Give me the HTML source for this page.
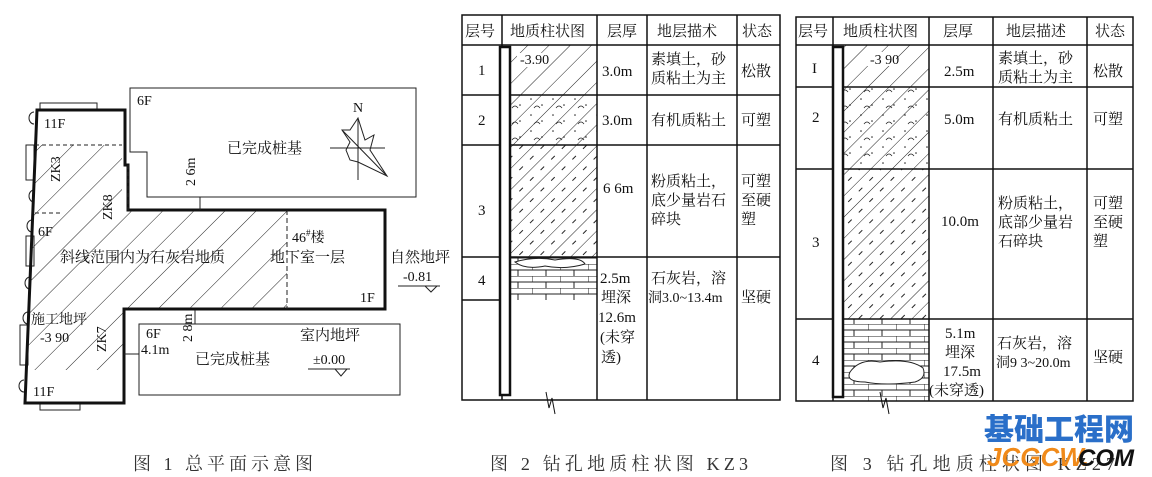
<!DOCTYPE html>
<html><head><meta charset="utf-8"><style>
html,body{margin:0;padding:0;background:#fff;}
svg{display:block;font-family:"Liberation Serif","Noto Serif CJK SC",serif;}
</style></head><body>
<svg width="1152" height="477" viewBox="0 0 1152 477" xmlns="http://www.w3.org/2000/svg">
<defs>
<pattern id="h" width="22" height="22" patternUnits="userSpaceOnUse" patternTransform="rotate(45)">
<line x1="0" y1="0" x2="0" y2="22" stroke="#222" stroke-width="1"/></pattern>
<pattern id="h2" width="15" height="15" patternUnits="userSpaceOnUse" patternTransform="rotate(45)">
<line x1="0" y1="0" x2="0" y2="15" stroke="#222" stroke-width="1"/></pattern>
<pattern id="hd" width="15" height="15" patternUnits="userSpaceOnUse" patternTransform="rotate(45)">
<line x1="0" y1="0" x2="0" y2="15" stroke="#222" stroke-width="1"/>
<line x1="7.5" y1="3" x2="7.5" y2="8" stroke="#222" stroke-width="1"/></pattern>
<pattern id="dot" width="22" height="16" patternUnits="userSpaceOnUse">
<circle cx="3" cy="3" r="0.8" fill="#222"/><circle cx="14" cy="9" r="0.8" fill="#222"/><path d="M6 12 q3 -4 6 0" stroke="#222" fill="none" stroke-width="0.8"/></pattern>
<pattern id="brick" width="28" height="12" patternUnits="userSpaceOnUse">
<rect width="28" height="12" fill="#fff"/>
<line x1="0" y1="0" x2="28" y2="0" stroke="#222"/><line x1="0" y1="6" x2="28" y2="6" stroke="#222"/>
<line x1="0" y1="0" x2="0" y2="6" stroke="#222"/><line x1="14" y1="6" x2="14" y2="12" stroke="#222"/></pattern>
</defs>

<!-- FIGURE 1 -->
<g fill="none" stroke="#222" stroke-width="1">
<path d="M130 88 H416 V197 H147 V152 H130 Z"/>
<rect x="139" y="324" width="261" height="71"/>
<rect x="40" y="103" width="57" height="7"/><rect x="26" y="145" width="8" height="35"/>
<rect x="26" y="236" width="8" height="30"/><rect x="20" y="325" width="8" height="40"/>
<rect x="40" y="403" width="40" height="7"/>
<path d="M34 112 a5 6 0 0 0 0 12"/><path d="M34 190 a5 6 0 0 0 0 12"/><path d="M32 220 a5 6 0 0 0 0 12"/><path d="M30 277 a5 6 0 0 0 0 12"/><path d="M28 312 a5 6 0 0 0 0 12"/><path d="M24 380 a5 6 0 0 0 0 12"/>
</g>
<path d="M35 145 H122 V210 H287 V309 H124 V370 H27 Z" fill="url(#h)"/>
<path d="M37 110 H125 V165 H128 V210 H385 V309 H124 V403 H25 Z" fill="none" stroke="#111" stroke-width="3"/>
<line x1="287" y1="210" x2="287" y2="309" stroke="#222" stroke-dasharray="5,3"/>
<path d="M35 145 H122 M35 213 H60 M128 165 V210" stroke="#222" stroke-dasharray="4,3" fill="none"/>
<line x1="200" y1="197" x2="200" y2="210" stroke="#222"/>
<line x1="195" y1="310" x2="195" y2="324" stroke="#222"/>
<line x1="124" y1="354" x2="139" y2="354" stroke="#222"/>
<g stroke="#222" fill="none">
<line x1="358" y1="118" x2="358" y2="180"/><line x1="330" y1="148" x2="385" y2="148"/>
<path d="M358 118 L350 130 L342 130 L350 142 L346 150 L350 160 L358 162 L387 176 L370 150 L374 135 L365 140 Z"/>
<line x1="343" y1="131" x2="387" y2="176"/>
</g>
<g font-size="14" fill="#111">
<text x="353" y="112">N</text>
<text x="137" y="105">6F</text>
<text x="227" y="153" font-size="15">已完成桩基</text>
<text x="44" y="128">11F</text>
<text x="38" y="236">6F</text>
<text x="60" y="262" font-size="15">斜线范围内为石灰岩地质</text>
<text x="292" y="242">46<tspan font-size="9" dy="-6">#</tspan><tspan dy="6">楼</tspan></text>
<text x="270" y="262" font-size="15">地下室一层</text>
<text x="360" y="302">1F</text>
<text x="390" y="262" font-size="15">自然地坪</text>
<text x="403" y="281">-0.81</text>
<text x="31" y="324">施工地坪</text>
<text x="40" y="342">-3 90</text>
<text x="146" y="338">6F</text>
<text x="141" y="354">4.1m</text>
<text x="195" y="364" font-size="15">已完成桩基</text>
<text x="300" y="340" font-size="15">室内地坪</text>
<text x="313" y="364">±0.00</text>
<text x="33" y="396">11F</text>
<text transform="translate(195,186) rotate(-90)">2 6m</text>
<text transform="translate(192,342) rotate(-90)">2 8m</text>
<text transform="translate(60,182) rotate(-90)">ZK3</text>
<text transform="translate(112,220) rotate(-90)">ZK8</text>
<text transform="translate(106,352) rotate(-90)">ZK7</text>
</g>
<g stroke="#222" fill="none"><path d="M398 286 H440 M425 286 L431 292 L437 286"/><path d="M308 369 H350 M335 369 L341 376 L347 369"/></g>

<!-- FIGURE 2 -->
<rect x="510" y="45" width="87" height="50" fill="url(#h2)"/>
<rect x="510" y="95" width="87" height="50" fill="url(#h2)"/>
<rect x="510" y="95" width="87" height="50" fill="url(#dot)"/>
<rect x="510" y="145" width="87" height="112" fill="url(#hd)"/>
<rect x="510" y="257" width="87" height="43" fill="url(#brick)"/>
<path d="M515 262 q20 -6 40 -2 q25 -4 30 4 q-20 6 -40 2 q-20 4 -30 -4Z" fill="#fff" stroke="#222"/>
<rect x="517" y="53" width="30" height="14" fill="#fff"/>
<g stroke="#111" fill="none" stroke-width="1.5">
<rect x="462" y="15" width="318" height="385"/>
<line x1="502" y1="15" x2="502" y2="400"/><line x1="597" y1="15" x2="597" y2="400"/>
<line x1="647" y1="15" x2="647" y2="400"/><line x1="737" y1="15" x2="737" y2="400"/>
<line x1="462" y1="45" x2="780" y2="45"/><line x1="462" y1="95" x2="780" y2="95"/>
<line x1="462" y1="145" x2="780" y2="145"/><line x1="462" y1="257" x2="780" y2="257"/>
<line x1="462" y1="300" x2="502" y2="300"/>
</g>
<rect x="500" y="47" width="10" height="348" fill="#fff" stroke="#111" stroke-width="2.5"/>
<path d="M546 392 L549 408 L552 398 L555 414" stroke="#111" fill="none"/>
<g font-size="15" fill="#111">
<text x="465" y="36">层号</text><text x="510" y="36">地质柱状图</text><text x="607" y="36">层厚</text><text x="657" y="36">地层描术</text><text x="742" y="36">状态</text>
<text x="478" y="75">1</text><text x="478" y="125">2</text><text x="478" y="215">3</text><text x="478" y="285">4</text>
<text x="520" y="64" font-size="14">-3.90</text>
<text x="602" y="76">3.0m</text><text x="602" y="125">3.0m</text><text x="603" y="193">6 6m</text>
<text x="600" y="283">2.5m</text><text x="601" y="302">埋深</text><text x="598" y="322">12.6m</text><text x="600" y="342">(未穿</text><text x="601" y="362">透)</text>
<text x="651" y="64">素填土，砂</text><text x="651" y="83">质粘土为主</text>
<text x="651" y="125">有机质粘土</text>
<text x="651" y="186">粉质粘土，</text><text x="651" y="205">底少量岩石</text><text x="651" y="224">碎块</text>
<text x="651" y="283">石灰岩，溶</text><text x="648" y="302" font-size="14">洞3.0~13.4m</text>
<text x="741" y="76">松散</text><text x="741" y="125">可塑</text>
<text x="741" y="186">可塑</text><text x="741" y="205">至硬</text><text x="741" y="224">塑</text>
<text x="741" y="302">坚硬</text>
</g>

<!-- FIGURE 3 -->
<rect x="843" y="45" width="86" height="42" fill="url(#h2)"/>
<rect x="843" y="87" width="86" height="82" fill="url(#h2)"/>
<rect x="843" y="87" width="86" height="82" fill="url(#dot)"/>
<rect x="843" y="169" width="86" height="150" fill="url(#hd)"/>
<rect x="843" y="319" width="86" height="82" fill="url(#brick)"/>
<path d="M850 372 q10 -14 30 -10 q30 -4 43 6 q4 10 -8 14 q-30 4 -50 0 q-20 0 -15 -10Z" fill="#fff" stroke="#222"/>
<rect x="862" y="52" width="34" height="14" fill="#fff"/>
<g stroke="#111" fill="none" stroke-width="1.5">
<rect x="796" y="17" width="337" height="384"/>
<line x1="833" y1="17" x2="833" y2="401"/><line x1="929" y1="17" x2="929" y2="401"/>
<line x1="993" y1="17" x2="993" y2="401"/><line x1="1087" y1="17" x2="1087" y2="401"/>
<line x1="796" y1="45" x2="1133" y2="45"/><line x1="796" y1="87" x2="1133" y2="87"/>
<line x1="796" y1="169" x2="1133" y2="169"/><line x1="796" y1="319" x2="1133" y2="319"/>
</g>
<rect x="833" y="47" width="10" height="350" fill="#fff" stroke="#111" stroke-width="2.5"/>
<path d="M880 392 L883 408 L886 398 L889 414" stroke="#111" fill="none"/>
<g font-size="15" fill="#111">
<text x="798" y="36">层号</text><text x="843" y="36">地质柱状图</text><text x="943" y="36">层厚</text><text x="1006" y="36">地层描述</text><text x="1095" y="36">状态</text>
<text x="812" y="73">I</text><text x="812" y="122">2</text><text x="812" y="247">3</text><text x="812" y="365">4</text>
<text x="870" y="64" font-size="14">-3 90</text>
<text x="944" y="76">2.5m</text><text x="944" y="124">5.0m</text><text x="941" y="226">10.0m</text>
<text x="945" y="338">5.1m</text><text x="945" y="357">埋深</text><text x="943" y="376">17.5m</text><text x="929" y="395">(未穿透)</text>
<text x="998" y="63">素填土，砂</text><text x="998" y="82">质粘土为主</text>
<text x="998" y="124">有机质粘土</text>
<text x="998" y="208">粉质粘土，</text><text x="998" y="227">底部少量岩</text><text x="998" y="246">石碎块</text>
<text x="997" y="348">石灰岩，溶</text><text x="996" y="367" font-size="14">洞9 3~20.0m</text>
<text x="1093" y="76">松散</text><text x="1093" y="124">可塑</text>
<text x="1093" y="208">可塑</text><text x="1093" y="227">至硬</text><text x="1093" y="246">塑</text>
<text x="1093" y="362">坚硬</text>
</g>

<!-- captions -->
<g font-size="18" fill="#333">
<text x="133" y="470" textLength="180" lengthAdjust="spacing">图 1  总平面示意图</text>
<text x="490" y="470" textLength="258" lengthAdjust="spacing">图 2  钻孔地质柱状图 KZ3</text>
<text x="830" y="470" textLength="285" lengthAdjust="spacing">图 3  钻孔地质柱状图 KZ27</text>
</g>
<text x="984" y="440" font-family="'Noto Sans CJK SC',sans-serif" font-weight="900" font-size="30" fill="#2a6fc9">基础工程网</text>
<text x="987" y="466" font-family="'Liberation Sans',sans-serif" font-weight="bold" font-style="italic" font-size="26" fill="#f08a1a">JCGCW.</text>
<text x="1078" y="466" font-family="'Liberation Sans',sans-serif" font-weight="bold" font-style="italic" font-size="24" fill="#111">COM</text>
</svg>
</body></html>
